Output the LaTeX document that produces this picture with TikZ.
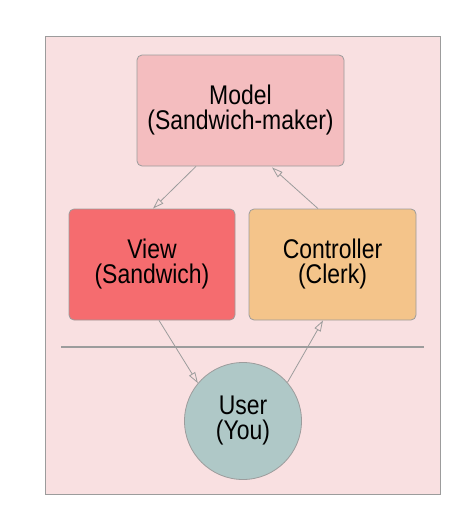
\documentclass[tikz,border=0pt]{standalone}
\usepackage{fontspec}
\setmainfont{Liberation Sans}[FakeStretch=0.85]
\usetikzlibrary{arrows.meta}
\definecolor{bgpink}{HTML}{F9E0E1}
\definecolor{modelc}{HTML}{F4BDBF}
\definecolor{viewc}{HTML}{F56C6F}
\definecolor{ctrlc}{HTML}{F4C48A}
\definecolor{userc}{HTML}{AFC8C7}
\definecolor{edgec}{HTML}{9C9C9C}
\tikzset{
  boxnode/.style={draw=edgec, line width=0.8pt, rounded corners=5pt, inner sep=0pt, align=center,
    font=\fontsize{27}{25}\selectfont},
  usernode/.style={circle, draw=edgec, line width=0.8pt, fill=userc, inner sep=0pt, minimum size=117pt,
    align=center, font=\fontsize{27}{25}\selectfont},
  arr/.style={draw=edgec, line width=0.8pt, -{Triangle[open, length=11pt, width=7pt]}},
}
\begin{document}
\begin{tikzpicture}[x=1pt,y=-1pt]
\useasboundingbox (0,0) rectangle (470,514);
\fill[white] (0,0) rectangle (470,514);
\draw[draw=edgec, line width=0.8pt, fill=bgpink] (45,36) rectangle (440,494);
\node[boxnode, fill=modelc, minimum width=207pt, minimum height=111pt] (model) at (240.5,110.5) {Model\\(Sandwich-maker)};
\node[boxnode, fill=viewc, minimum width=166pt, minimum height=111pt] (view) at (152,264.5) {View\\(Sandwich)};
\node[boxnode, fill=ctrlc, minimum width=167pt, minimum height=111pt] (ctrl) at (332.5,264.5) {Controller\\(Clerk)};
\node[usernode] (user) at (243,421) {User\\(You)};
\coordinate (lineL) at (61,347);
\coordinate (lineR) at (424,347);
\draw[edgec, line width=1.5pt] (lineL) -- (lineR);
\draw[arr] ([xshift=-44.5pt]model.south) -- ([xshift=1pt]view.north);
\draw[arr] ([xshift=-14.5pt]ctrl.north) -- ([xshift=31.5pt,yshift=-1pt]model.south);
\draw[arr] ([xshift=7pt]view.south) -- (user.140);
\draw[arr] (user.41) -- ([xshift=-9.5pt]ctrl.south);
\end{tikzpicture}
\end{document}
